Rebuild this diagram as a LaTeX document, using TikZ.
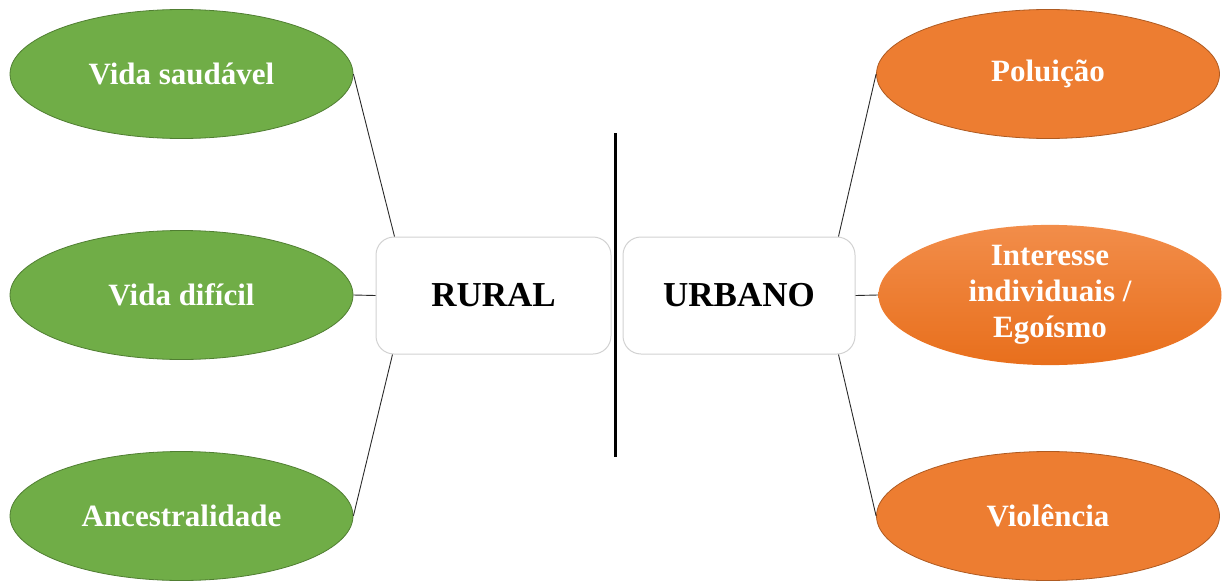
\documentclass[tikz,border=0pt]{standalone}
\usepackage{fontspec}
\setmainfont{Liberation Serif}
\usetikzlibrary{shapes.geometric}
\definecolor{gfill}{HTML}{70AD47}
\definecolor{gline}{HTML}{507E32}
\definecolor{ofill}{HTML}{ED7D31}
\definecolor{oline}{HTML}{AE5A21}
\definecolor{otop}{HTML}{F28D4A}
\definecolor{obot}{HTML}{E86F1C}
\definecolor{boxline}{HTML}{D2D2D2}
\definecolor{conn}{HTML}{2A2A2A}
\begin{document}
\begin{tikzpicture}[x=1pt,y=-1pt,
  oval/.style={ellipse, inner sep=0pt, minimum width=343pt, minimum height=129pt,
    line width=0.8pt, text=white, align=center,
    font=\fontsize{31}{36}\selectfont\bfseries},
  greenoval/.style={oval, fill=gfill, draw=gline},
  orangeoval/.style={oval, fill=ofill, draw=oline},
  gradoval/.style={oval, top color=otop, bottom color=obot, draw=none},
  mainbox/.style={rectangle, rounded corners=18pt, draw=boxline, fill=white,
    line width=1pt, minimum height=117pt, inner sep=0pt,
    font=\fontsize{35}{40}\selectfont\bfseries},
  link/.style={draw=conn, line width=0.9pt}]
\useasboundingbox (0,0) rectangle (1224,581);
% central boxes
\node[mainbox, minimum width=235pt] (rural) at (493.5,295.5) {RURAL};
\node[mainbox, minimum width=232pt] (urbano) at (739,295.5) {URBANO};
% separator
\coordinate (vtop) at (615.5,133);
\coordinate (vbot) at (615.5,457);
\draw[line width=3pt, black] (vtop) -- (vbot);
% left ellipses
\node[greenoval] (vs) at (181.5,74) {Vida saudável};
\node[greenoval] (vd) at (181.5,295) {Vida difícil};
\node[greenoval] (an) at (181.5,516) {Ancestralidade};
% right ellipses
\node[orangeoval] (po) at (1048,74) {Poluição};
\node[gradoval] (ie) at (1050,295) {Interesse\\individuais /\\Egoísmo};
\node[orangeoval] (vi) at (1048,516) {Violência};
% connectors
\draw[link] (vs.east) -- ([xshift=19pt]rural.north west);
\draw[link] (vd.east) -- (rural.west);
\draw[link] (an.east) -- ([xshift=17pt]rural.south west);
\draw[link] (po.west) -- ([xshift=-17pt]urbano.north east);
\draw[link] (ie.west) -- (urbano.east);
\draw[link] (vi.west) -- ([xshift=-17pt]urbano.south east);
\end{tikzpicture}
\end{document}
